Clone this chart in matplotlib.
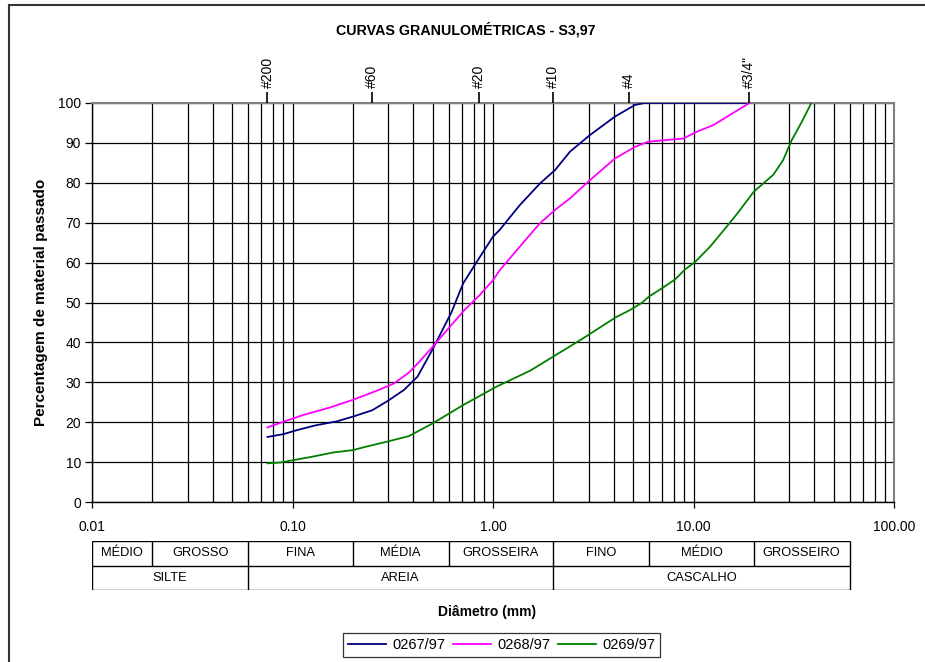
import numpy as np
import matplotlib
matplotlib.use('Agg')
from matplotlib import pyplot as plt
from matplotlib.ticker import FixedLocator, NullLocator, NullFormatter
from matplotlib.lines import Line2D

plt.rcParams['font.family'] = ['Liberation Sans', 'DejaVu Sans']

# --- data (diameter mm, % passing) ---
d_0267 = [0.075, 0.09, 0.105, 0.13, 0.166, 0.2, 0.25, 0.3, 0.36, 0.42, 0.5, 0.62,
          0.71, 0.83, 1.0, 1.08, 1.36, 1.72, 2.04, 2.42, 3.05, 4.06, 5.1, 5.7, 19.0]
p_0267 = [16.3, 17.0, 18.0, 19.2, 20.2, 21.4, 23.0, 25.4, 28.1, 31.4, 38.3, 47.5,
          54.8, 60.2, 66.5, 68.2, 74.4, 79.9, 83.2, 87.8, 92.0, 96.6, 99.5, 100, 100]

d_0268 = [0.075, 0.09, 0.113, 0.154, 0.2, 0.27, 0.32, 0.38, 0.43, 0.5, 0.59, 0.72,
          0.86, 1.0, 1.08, 1.36, 1.71, 2.04, 2.42, 3.05, 4.06, 5.1, 5.95, 8.9, 10.4, 12.6, 19.0]
p_0268 = [18.7, 20.1, 21.8, 23.7, 25.6, 28.1, 29.7, 32.4, 35.2, 38.9, 43.1, 48.1,
          51.9, 55.6, 58.1, 64.0, 69.8, 73.2, 76.1, 80.7, 86.1, 89.0, 90.3, 91.1, 92.8, 94.5, 100]

d_0269 = [0.075, 0.087, 0.127, 0.159, 0.2, 0.234, 0.295, 0.38, 0.5, 0.71, 1.04, 1.53,
          2.75, 4.13, 4.82, 5.52, 6.0, 7.08, 8.1, 9.08, 10.2, 12.1, 14.2, 16.6, 20.0,
          25.0, 28.0, 30.9, 34.7, 38.7]
p_0269 = [9.7, 9.9, 11.4, 12.4, 13.0, 13.9, 15.1, 16.5, 19.7, 24.3, 28.9, 32.9,
          40.7, 46.4, 48.1, 49.9, 51.5, 53.8, 55.8, 58.3, 60.2, 64.0, 68.2, 72.4, 77.8,
          82.0, 85.7, 90.7, 95.3, 100]

series_names = ['0267/97', '0268/97', '0269/97']
series_colors = ['#000080', '#ff00ff', '#008000']

sieve_sizes = [0.075, 0.25, 0.85, 2.0, 4.75, 19.0]
sieve_labels = ['#200', '#60', '#20', '#10', '#4', '#3/4"']

x_major = [0.01, 0.1, 1, 10, 100]
x_major_labels = ['0.01', '0.10', '1.00', '10.00', '100.00']

# classification table
top_edges = [0.01, 0.02, 0.06, 0.2, 0.6, 2, 6, 20, 60]
top_labels = ['MÉDIO', 'GROSSO', 'FINA', 'MÉDIA', 'GROSSEIRA', 'FINO', 'MÉDIO', 'GROSSEIRO']
bot_edges = [0.01, 0.06, 2, 60]
bot_labels = ['SILTE', 'AREIA', 'CASCALHO']

W, H = 925, 662
fig = plt.figure(figsize=(W / 100, H / 100), dpi=100)

def fx(px):
    return px / W

def fy(py):
    return 1 - py / H

L, R, T, B = 92, 894, 103, 502
ax = fig.add_axes([fx(L), fy(B), fx(R - L), (B - T) / H])

for d, p, c, n in zip([d_0267, d_0268, d_0269], [p_0267, p_0268, p_0269], series_colors, series_names):
    ax.plot(d, p, color=c, lw=1.3, label=n, zorder=3)

ax.set_xscale('log')
ax.set_xlim(0.01, 100)
ax.set_ylim(0, 100)
ax.xaxis.set_major_locator(FixedLocator(x_major))
ax.set_xticklabels(x_major_labels)
minors = [m * 10.0 ** k for k in range(-2, 2) for m in range(2, 10)]
ax.xaxis.set_minor_locator(FixedLocator(minors))
ax.xaxis.set_minor_formatter(NullFormatter())
ax.set_yticks(range(0, 101, 10))
ax.grid(which='both', axis='x', color='black', lw=0.9)
ax.grid(which='major', axis='y', color='black', lw=0.9)
ax.tick_params(axis='x', which='major', direction='out', length=4, width=0.9, pad=9, labelsize=10)
ax.tick_params(axis='x', which='minor', length=0)
ax.tick_params(axis='y', direction='out', length=5, width=0.9, pad=3, labelsize=10)
for s in ['top', 'right']:
    ax.spines[s].set_color('#808080')
    ax.spines[s].set_linewidth(1.5)
for s in ['left', 'bottom']:
    ax.spines[s].set_color('black')
    ax.spines[s].set_linewidth(1.0)
ax.set_ylabel('Percentagem de material passado', fontsize=11, fontweight='bold', labelpad=7)

# sieve axis on top
ax2 = ax.twiny()
ax2.set_xscale('log')
ax2.set_xlim(0.01, 100)
ax2.xaxis.set_major_locator(FixedLocator(sieve_sizes))
ax2.set_xticklabels(sieve_labels, rotation=90)
ax2.xaxis.set_minor_locator(NullLocator())
ax2.tick_params(axis='x', direction='out', length=8, width=1.2, pad=3, labelsize=10)
for s in ax2.spines.values():
    s.set_visible(False)

# classification table
tab = fig.add_axes([fx(L), fy(590), fx(R - L), 49 / H])
tab.set_xscale('log')
tab.set_xlim(0.01, 100)
tab.set_ylim(0, 2)
tab.axis('off')
lk = dict(color='black', lw=1.0, solid_capstyle='butt')
tab.plot([top_edges[0], top_edges[-1]], [2, 2], **lk)
tab.plot([top_edges[0], top_edges[-1]], [1, 1], **lk)
tab.plot([top_edges[0], top_edges[-1]], [0, 0], **lk)
for e in top_edges:
    tab.plot([e, e], [1, 2], **lk)
for e in bot_edges:
    tab.plot([e, e], [0, 1], **lk)
for a, b, t in zip(top_edges[:-1], top_edges[1:], top_labels):
    tab.text(np.sqrt(a * b), 1.5, t, ha='center', va='center', fontsize=9.3)
for a, b, t in zip(bot_edges[:-1], bot_edges[1:], bot_labels):
    tab.text(np.sqrt(a * b), 0.5, t, ha='center', va='center', fontsize=9.3)

fig.text(fx(487), fy(612), 'Diâmetro (mm)', ha='center', va='center', fontsize=10, fontweight='bold')
fig.text(fx(466), fy(30), 'CURVAS GRANULOMÉTRICAS - S3,97', ha='center', va='center',
         fontsize=10.3, fontweight='bold')

leg = fig.legend(*ax.get_legend_handles_labels(), loc='upper left', bbox_to_anchor=(fx(343), fy(633)),
                 ncol=3, fontsize=10.5, frameon=True, fancybox=False, handlelength=2.6,
                 handletextpad=0.45, columnspacing=0.5, borderpad=0.35, borderaxespad=0)
leg.get_frame().set_edgecolor('black')
leg.get_frame().set_linewidth(0.9)

# outer chart border
fig.add_artist(Line2D([fx(8.5), fx(8.5)], [0, fy(4.5)], color='#333333', lw=1.5))
fig.add_artist(Line2D([fx(8.5), 1], [fy(4.5), fy(4.5)], color='#333333', lw=1.5))

fig.savefig('out.png', dpi=100)
